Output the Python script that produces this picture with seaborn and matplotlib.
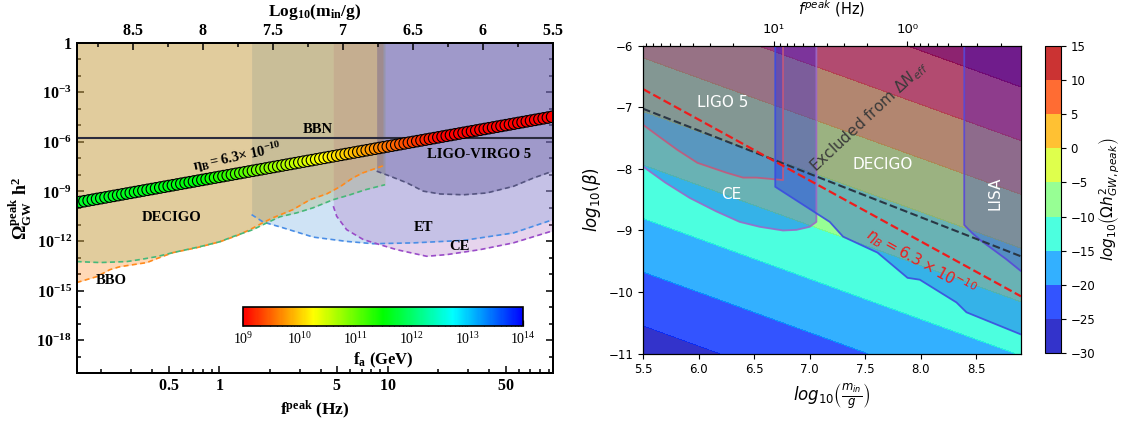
import numpy as np
import matplotlib
matplotlib.use("Agg")
import matplotlib.pyplot as plt
import seaborn as sns
from matplotlib import ticker
from matplotlib.colors import LinearSegmentedColormap, LogNorm
import matplotlib.cm as cm

# ====================== DATA ======================
# ---- Left panel: detector sensitivity curves  (log10 f/Hz , log10 Omega h^2)
bbo_logf = [-0.846, -0.726, -0.649, -0.589, -0.429, -0.370, -0.275, -0.133, 0.004, 0.105,
            0.182, 0.259, 0.319, 0.437, 0.538, 0.639, 0.717, 0.794, 0.853, 0.972]
bbo_logo = [-14.51, -14.15, -13.73, -13.55, -13.30, -13.06, -12.70, -12.40, -12.04, -11.67,
            -11.31, -10.89, -10.59, -10.10, -9.50, -9.14, -8.71, -8.17, -7.87, -7.45]
decigo_logf = [-0.846, -0.708, -0.548, -0.471, -0.370, -0.275, -0.115, 0.004, 0.081, 0.200,
               0.259, 0.360, 0.461, 0.556, 0.675, 0.776, 0.865, 0.984]
decigo_logo = [-13.24, -13.30, -13.24, -13.12, -12.94, -12.70, -12.34, -12.04, -11.73, -11.31,
               -11.01, -10.53, -10.29, -9.99, -9.50, -9.20, -8.90, -8.59]
et_logf = [0.192, 0.261, 0.360, 0.558, 0.756, 0.914, 1.151, 1.448, 1.745, 1.979]
et_logo = [-10.40, -10.85, -11.14, -11.76, -12.02, -12.16, -12.11, -11.96, -11.51, -10.71]
ce_logf = [0.677, 0.697, 0.756, 0.855, 0.954, 1.053, 1.231, 1.350, 1.547, 1.745, 1.979]
ce_logo = [-9.89, -10.50, -11.31, -11.91, -12.22, -12.52, -12.92, -12.82, -12.52, -12.11, -11.38]
ligo_logf = [0.934, 1.013, 1.112, 1.211, 1.310, 1.449, 1.587, 1.745, 1.863, 1.979]
ligo_logo = [-7.77, -8.07, -8.47, -8.98, -9.15, -9.20, -9.09, -8.69, -8.19, -7.77]
bbn_logo = [-5.74]

# ---- Left panel: signal chain (log10 f, log10 Omega h^2, log10 f_a/GeV)
mk_logf = [-0.850, -0.825, -0.800, -0.775, -0.750, -0.725, -0.700, -0.675, -0.650, -0.625,
           -0.600, -0.575, -0.550, -0.525, -0.500, -0.475, -0.450, -0.425, -0.400, -0.375,
           -0.350, -0.325, -0.300, -0.275, -0.250, -0.225, -0.200, -0.175, -0.150, -0.125,
           -0.100, -0.075, -0.050, -0.025, 0.000, 0.025, 0.050, 0.075, 0.100, 0.125,
           0.150, 0.175, 0.200, 0.225, 0.250, 0.275, 0.300, 0.325, 0.350, 0.375,
           0.400, 0.425, 0.450, 0.475, 0.500, 0.525, 0.550, 0.575, 0.600, 0.625,
           0.650, 0.675, 0.700, 0.725, 0.750, 0.775, 0.800, 0.825, 0.850, 0.875,
           0.900, 0.925, 0.950, 0.975, 1.000, 1.025, 1.050, 1.075, 1.100, 1.125,
           1.150, 1.175, 1.200, 1.225, 1.250, 1.275, 1.300, 1.325, 1.350, 1.375,
           1.400, 1.425, 1.450, 1.475, 1.500, 1.525, 1.550, 1.575, 1.600, 1.625,
           1.650, 1.675, 1.700, 1.725, 1.750, 1.775, 1.800, 1.825, 1.850, 1.875,
           1.900, 1.925, 1.950, 1.975]
mk_logo = [-9.680, -9.634, -9.588, -9.542, -9.496, -9.450, -9.404, -9.358, -9.312, -9.266,
           -9.220, -9.174, -9.128, -9.082, -9.036, -8.990, -8.944, -8.898, -8.852, -8.806,
           -8.760, -8.714, -8.668, -8.622, -8.576, -8.530, -8.484, -8.438, -8.392, -8.346,
           -8.300, -8.254, -8.208, -8.162, -8.116, -8.070, -8.024, -7.978, -7.932, -7.886,
           -7.840, -7.794, -7.748, -7.702, -7.656, -7.610, -7.564, -7.518, -7.472, -7.426,
           -7.380, -7.334, -7.288, -7.242, -7.196, -7.150, -7.104, -7.058, -7.012, -6.966,
           -6.920, -6.874, -6.828, -6.782, -6.736, -6.690, -6.644, -6.598, -6.552, -6.506,
           -6.460, -6.414, -6.368, -6.322, -6.276, -6.230, -6.184, -6.138, -6.092, -6.046,
           -6.000, -5.954, -5.908, -5.862, -5.816, -5.770, -5.724, -5.678, -5.632, -5.586,
           -5.540, -5.494, -5.448, -5.402, -5.356, -5.310, -5.264, -5.218, -5.172, -5.126,
           -5.080, -5.034, -4.988, -4.942, -4.896, -4.850, -4.804, -4.758, -4.712, -4.666,
           -4.620, -4.574, -4.528, -4.482]
mk_logfa = [11.70, 11.69, 11.69, 11.69, 11.68, 11.68, 11.67, 11.67, 11.66, 11.66,
            11.65, 11.65, 11.64, 11.64, 11.63, 11.63, 11.62, 11.62, 11.61, 11.61,
            11.60, 11.60, 11.59, 11.59, 11.58, 11.58, 11.57, 11.57, 11.56, 11.56,
            11.52, 11.47, 11.43, 11.38, 11.34, 11.30, 11.25, 11.21, 11.16, 11.12,
            11.08, 11.03, 10.99, 10.94, 10.90, 10.86, 10.81, 10.77, 10.72, 10.68,
            10.64, 10.59, 10.55, 10.50, 10.46, 10.42, 10.37, 10.33, 10.28, 10.24,
            10.20, 10.15, 10.11, 10.06, 10.02, 9.98, 9.93, 9.89, 9.84, 9.80,
            9.76, 9.71, 9.67, 9.62, 9.58, 9.54, 9.49, 9.45, 9.40, 9.36,
            9.32, 9.27, 9.23, 9.18, 9.14, 9.10, 9.05, 9.01, 8.96, 8.92,
            8.88, 8.83, 8.79, 8.74, 8.70, 8.66, 8.61, 8.57, 8.52, 8.48,
            8.44, 8.39, 8.35, 8.30, 8.26, 8.22, 8.17, 8.13, 8.08, 8.04,
            8.00, 7.95, 7.91, 7.86]
fa_tick_exps = [9, 10, 11, 12, 13, 14]

# ---- Right panel: log10 Omega h^2 read at the corners of the (log m, log beta) plane
grid_logm = [5.5, 8.9]
grid_logbeta = [-11.0, -6.0]
omega_grid = [[-27.6, -14.8],
              [1.1, 13.8]]
omega_levels = [-30, -25, -20, -15, -10, -5, 0, 5, 10, 15]

# detector regions (log10 m_in/g , log10 beta)
r_ligo_x = [5.50, 5.65, 5.81, 5.99, 6.25, 6.40, 6.52, 6.76]
r_ligo_y = [-7.28, -7.48, -7.69, -7.90, -8.06, -8.14, -8.14, -8.18]
r_ce_x = [5.50, 5.70, 5.92, 6.16, 6.37, 6.55, 6.76, 6.88, 7.00, 7.06]
r_ce_y = [-7.96, -8.22, -8.47, -8.69, -8.86, -8.94, -9.00, -8.99, -8.94, -8.86]
r_decigo_x = [6.69, 7.18, 7.30, 7.61, 7.88, 7.99, 8.32, 8.41, 8.90]
r_decigo_y = [-8.29, -8.86, -9.10, -9.36, -9.77, -9.80, -10.17, -10.33, -10.69]
r_lisa_x = [8.39, 8.46, 8.53, 8.77, 8.90]
r_lisa_y = [-8.91, -9.04, -9.15, -9.47, -9.66]
eta_x = [5.5, 8.9]
eta_y = [-6.70, -10.07]
neff_x = [5.5, 8.9]
neff_y = [-7.02, -9.42]

# ====================== STYLE ======================
sns.set_style("ticks")
plt.rcParams.update({
    "font.family": ["DejaVu Sans"],
    "axes.edgecolor": "black", "axes.labelcolor": "black", "text.color": "black",
    "xtick.color": "black", "ytick.color": "black",
    "mathtext.fontset": "custom",
    "mathtext.rm": "Liberation Serif",
    "mathtext.it": "Liberation Serif:italic",
    "mathtext.bf": "Liberation Serif:bold",
    "mathtext.sf": "Liberation Serif",
    "axes.unicode_minus": True,
})

def P(a):
    return 10 ** np.asarray(a, dtype=float)

fig = plt.figure(figsize=(11.26, 4.23), dpi=100)

# ====================== LEFT PANEL ======================
axL = fig.add_axes([0.0681, 0.1175, 0.4228, 0.7815])
axL.set_xscale("log")
axL.set_yscale("log")

fills = [(et_logf, et_logo, "#62a5e1"), (ce_logf, ce_logo, "#af73c6"),
         (bbo_logf, bbo_logo, "#ff7f0e"), (decigo_logf, decigo_logo, "#9eb164"),
         (ligo_logf, ligo_logo, "#483d8b")]
for lf, lo, col in fills:
    axL.fill_between(P(lf), P(lo), 1.0, color=col, alpha=0.3, lw=0, zorder=1)

curves = [(et_logf, et_logo, "#4a8ee6"), (ce_logf, ce_logo, "#9a4cc8"),
          (bbo_logf, bbo_logo, "#ff8a1c"), (decigo_logf, decigo_logo, "#46b87a"),
          (ligo_logf, ligo_logo, "#555580")]
for lf, lo, col in curves:
    axL.plot(P(lf), P(lo), ls=(0, (3, 2)), color=col, lw=1.2, zorder=2)

axL.axhline(P(bbn_logo)[0], color="#2b2b3d", lw=1.5, zorder=3)

cmap_fa = LinearSegmentedColormap.from_list("fa", ["#ff0000", "#ffff00", "#00ff00", "#00ffff", "#0000ff"])
fa_norm = LogNorm(1e9, 1e14)
sns.scatterplot(x=P(mk_logf), y=P(mk_logo), hue=P(mk_logfa), hue_norm=fa_norm,
                palette=cmap_fa, s=68, edgecolor="black", linewidth=0.8,
                legend=False, ax=axL, zorder=4)

axL.set_xlim(0.1426, 95.3)
axL.set_ylim(1e-20, 1)

axL.xaxis.set_major_locator(ticker.FixedLocator([0.5, 1, 5, 10, 50]))
axL.xaxis.set_minor_locator(ticker.LogLocator(base=10, subs=np.arange(2, 10) * 1.0, numticks=30))
axL.xaxis.set_major_formatter(ticker.FuncFormatter(lambda v, p: r"$\mathbf{%g}$" % v))
axL.xaxis.set_minor_formatter(ticker.NullFormatter())
axL.yaxis.set_major_locator(ticker.FixedLocator([10.0 ** e for e in range(-18, 1, 3)]))
axL.yaxis.set_minor_locator(ticker.FixedLocator([10.0 ** e for e in range(-20, 1)]))
axL.yaxis.set_major_formatter(ticker.FuncFormatter(
    lambda v, p: r"$\mathbf{1}$" if abs(np.log10(v)) < 1e-6 else r"$\mathbf{10^{%d}}$" % round(np.log10(v))))
axL.yaxis.set_minor_formatter(ticker.NullFormatter())

axLt = axL.twiny()
axLt.set_xlim(8.9, 5.5)
axLt.xaxis.set_major_locator(ticker.MultipleLocator(0.5))
axLt.xaxis.set_minor_locator(ticker.MultipleLocator(0.25))
axLt.xaxis.set_major_formatter(ticker.FuncFormatter(lambda v, p: r"$\mathbf{%g}$" % v))

for a in (axL, axLt):
    for s in a.spines.values():
        s.set_linewidth(1.4)
axL.tick_params(which="both", direction="in", right=True, top=False, width=1.1, labelsize=11.5)
axL.tick_params(which="major", length=5)
axL.tick_params(which="minor", length=2.8)
axLt.tick_params(which="both", direction="in", width=1.1, labelsize=11.5)
axLt.tick_params(which="major", length=5)
axLt.tick_params(which="minor", length=2.8)

axLt.set_xlabel(r"$\mathbf{Log_{10}(m_{in}/g)}$", fontsize=12.5, labelpad=5)
axL.set_xlabel(r"$\mathbf{f^{peak}}$ (Hz)", fontfamily="Liberation Serif", fontweight="bold",
               fontsize=12.5, labelpad=4)
axL.set_ylabel(r"$\mathbf{\Omega^{peak}_{GW}\ h^2}$", fontsize=13, labelpad=2)

tkw = dict(fontfamily="Liberation Serif", fontweight="bold", fontsize=10.5,
           ha="center", va="center", zorder=6)
axL.text(3.86, P(-5.27), "BBN", **tkw)
axL.text(34.8, P(-6.78), "LIGO-VIRGO 5", **tkw)
axL.text(0.522, P(-10.59), "DECIGO", **tkw)
axL.text(16.3, P(-11.16), "ET", **tkw)
axL.text(26.5, P(-12.31), "CE", **tkw)
axL.text(0.2277, P(-14.36), "BBO", **tkw)
axL.text(1.28, P(-6.93), r"$\mathbf{\eta_B = 6.3{\times}\ 10^{-10}}$", rotation=12, **tkw)

cax1 = fig.add_axes([243.3 / 1126, 1 - 326 / 423, 280 / 1126, 18.7 / 423])
sm = cm.ScalarMappable(norm=fa_norm, cmap=cmap_fa)
cb1 = fig.colorbar(sm, cax=cax1, orientation="horizontal")
cb1.set_ticks([10.0 ** e for e in fa_tick_exps])
cax1.xaxis.set_major_formatter(ticker.FuncFormatter(lambda v, p: r"$\mathrm{10^{%d}}$" % round(np.log10(v))))
cax1.xaxis.set_minor_locator(ticker.LogLocator(base=10, subs=np.arange(2, 10) * 1.0, numticks=30))
cax1.xaxis.set_minor_formatter(ticker.NullFormatter())
cax1.tick_params(which="both", direction="in", labelsize=10, width=0.9)
cax1.tick_params(which="major", length=4)
cax1.tick_params(which="minor", length=2)
cb1.outline.set_linewidth(1.2)
cb1.set_label(r"$\mathbf{f_a}$ (GeV)", fontfamily="Liberation Serif", fontweight="bold",
              fontsize=12, labelpad=3)

# ====================== RIGHT PANEL ======================
axR = fig.add_axes([0.5710, 0.1643, 0.3357, 0.7270])
cs = axR.contourf(grid_logm, grid_logbeta, np.array(omega_grid), levels=omega_levels,
                  cmap="jet", alpha=0.8, zorder=0)

regions = [(r_ce_x, r_ce_y, 0.3, "#9c68c8", "right"),
           (r_ligo_x, r_ligo_y, 0.15, "#c4587c", "right"),
           (r_decigo_x, r_decigo_y, 0.3, "#3c4ce0", "left"),
           (r_lisa_x, r_lisa_y, 0.2, "#5848d8", "left")]
for xs, ys, al, ec, side in regions:
    px = list(xs) + [xs[-1], xs[0]]
    py = list(ys) + [-6.0, -6.0]
    axR.fill(px, py, facecolor="blue", alpha=al, lw=0, zorder=2)
    if side == "right":
        ex, ey = list(xs) + [xs[-1]], list(ys) + [-6.0]
    else:
        ex, ey = [xs[0]] + list(xs), [-6.0] + list(ys)
    axR.plot(ex, ey, color=ec, lw=1.3, alpha=0.9, zorder=3)

sns.lineplot(x=neff_x, y=neff_y, ax=axR, color="#2a3644", linestyle="--", lw=1.5,
             estimator=None, sort=False, zorder=4)
sns.lineplot(x=eta_x, y=eta_y, ax=axR, color="#ee1c1c", linestyle="--", lw=1.6,
             estimator=None, sort=False, zorder=4)

axR.set_xlim(5.5, 8.9)
axR.set_ylim(-11, -6)
axR.xaxis.set_major_locator(ticker.MultipleLocator(0.5))
axR.xaxis.set_major_formatter(ticker.FormatStrFormatter("%.1f"))
axR.yaxis.set_major_locator(ticker.MultipleLocator(1))
axR.tick_params(which="both", direction="out", top=False, labelsize=8.5, length=3.5, width=0.8)

rkw = dict(fontsize=11, ha="center", va="center", zorder=6, math_fontfamily="dejavusans")
axR.text(6.22, -6.92, "LIGO 5", color="white", **rkw)
axR.text(6.29, -8.42, "CE", color="white", **rkw)
axR.text(7.66, -7.92, "DECIGO", color="white", **rkw)
axR.text(8.67, -8.39, "LISA", color="white", rotation=90, **rkw)
axR.text(7.53, -7.14, r"Excluded from $\Delta N_{eff}$", color="#3a3a3a", rotation=43, **rkw)
axR.text(8.00, -9.52, r"$\eta_B = 6.3 \times 10^{-10}$", color="#ee1c1c", rotation=-29, **rkw)

axR.set_xlabel(r"$log_{10}\left(\frac{m_{in}}{g}\right)$", fontsize=12, math_fontfamily="dejavusans")
axR.set_ylabel(r"$log_{10}(\beta)$", fontsize=12, math_fontfamily="dejavusans")

axRt = axR.twiny()
axRt.set_xscale("log")
axRt.set_xlim(95.0, 0.1417)
sup = {0: "10\u2070", 1: "10\u00b9", 2: "10\u00b2", -1: "10\u207b\u00b9"}
axRt.xaxis.set_major_locator(ticker.FixedLocator([1.0, 10.0]))
axRt.xaxis.set_major_formatter(ticker.FuncFormatter(lambda v, p: sup.get(int(round(np.log10(v))), "")))
axRt.xaxis.set_minor_locator(ticker.LogLocator(base=10, subs=np.arange(2, 10) * 1.0, numticks=30))
axRt.xaxis.set_minor_formatter(ticker.NullFormatter())
axRt.tick_params(which="both", direction="out", labelsize=9.5, width=0.8)
axRt.tick_params(which="major", length=3.5)
axRt.tick_params(which="minor", length=2)
axRt.set_xlabel(r"$f^{peak}$ (Hz)", fontsize=10.5, math_fontfamily="dejavusans", labelpad=6)

caxR = fig.add_axes([1045 / 1126, 0.1647, 15.7 / 1126, 0.7273])
cb2 = fig.colorbar(cs, cax=caxR, ticks=omega_levels)
caxR.tick_params(labelsize=8.5, length=3.5, width=0.8)
cb2.set_label(r"$log_{10}\left(\Omega h^2_{GW,peak}\right)$", fontsize=11,
              math_fontfamily="dejavusans", labelpad=1)

fig.savefig("out.png", dpi=100)
